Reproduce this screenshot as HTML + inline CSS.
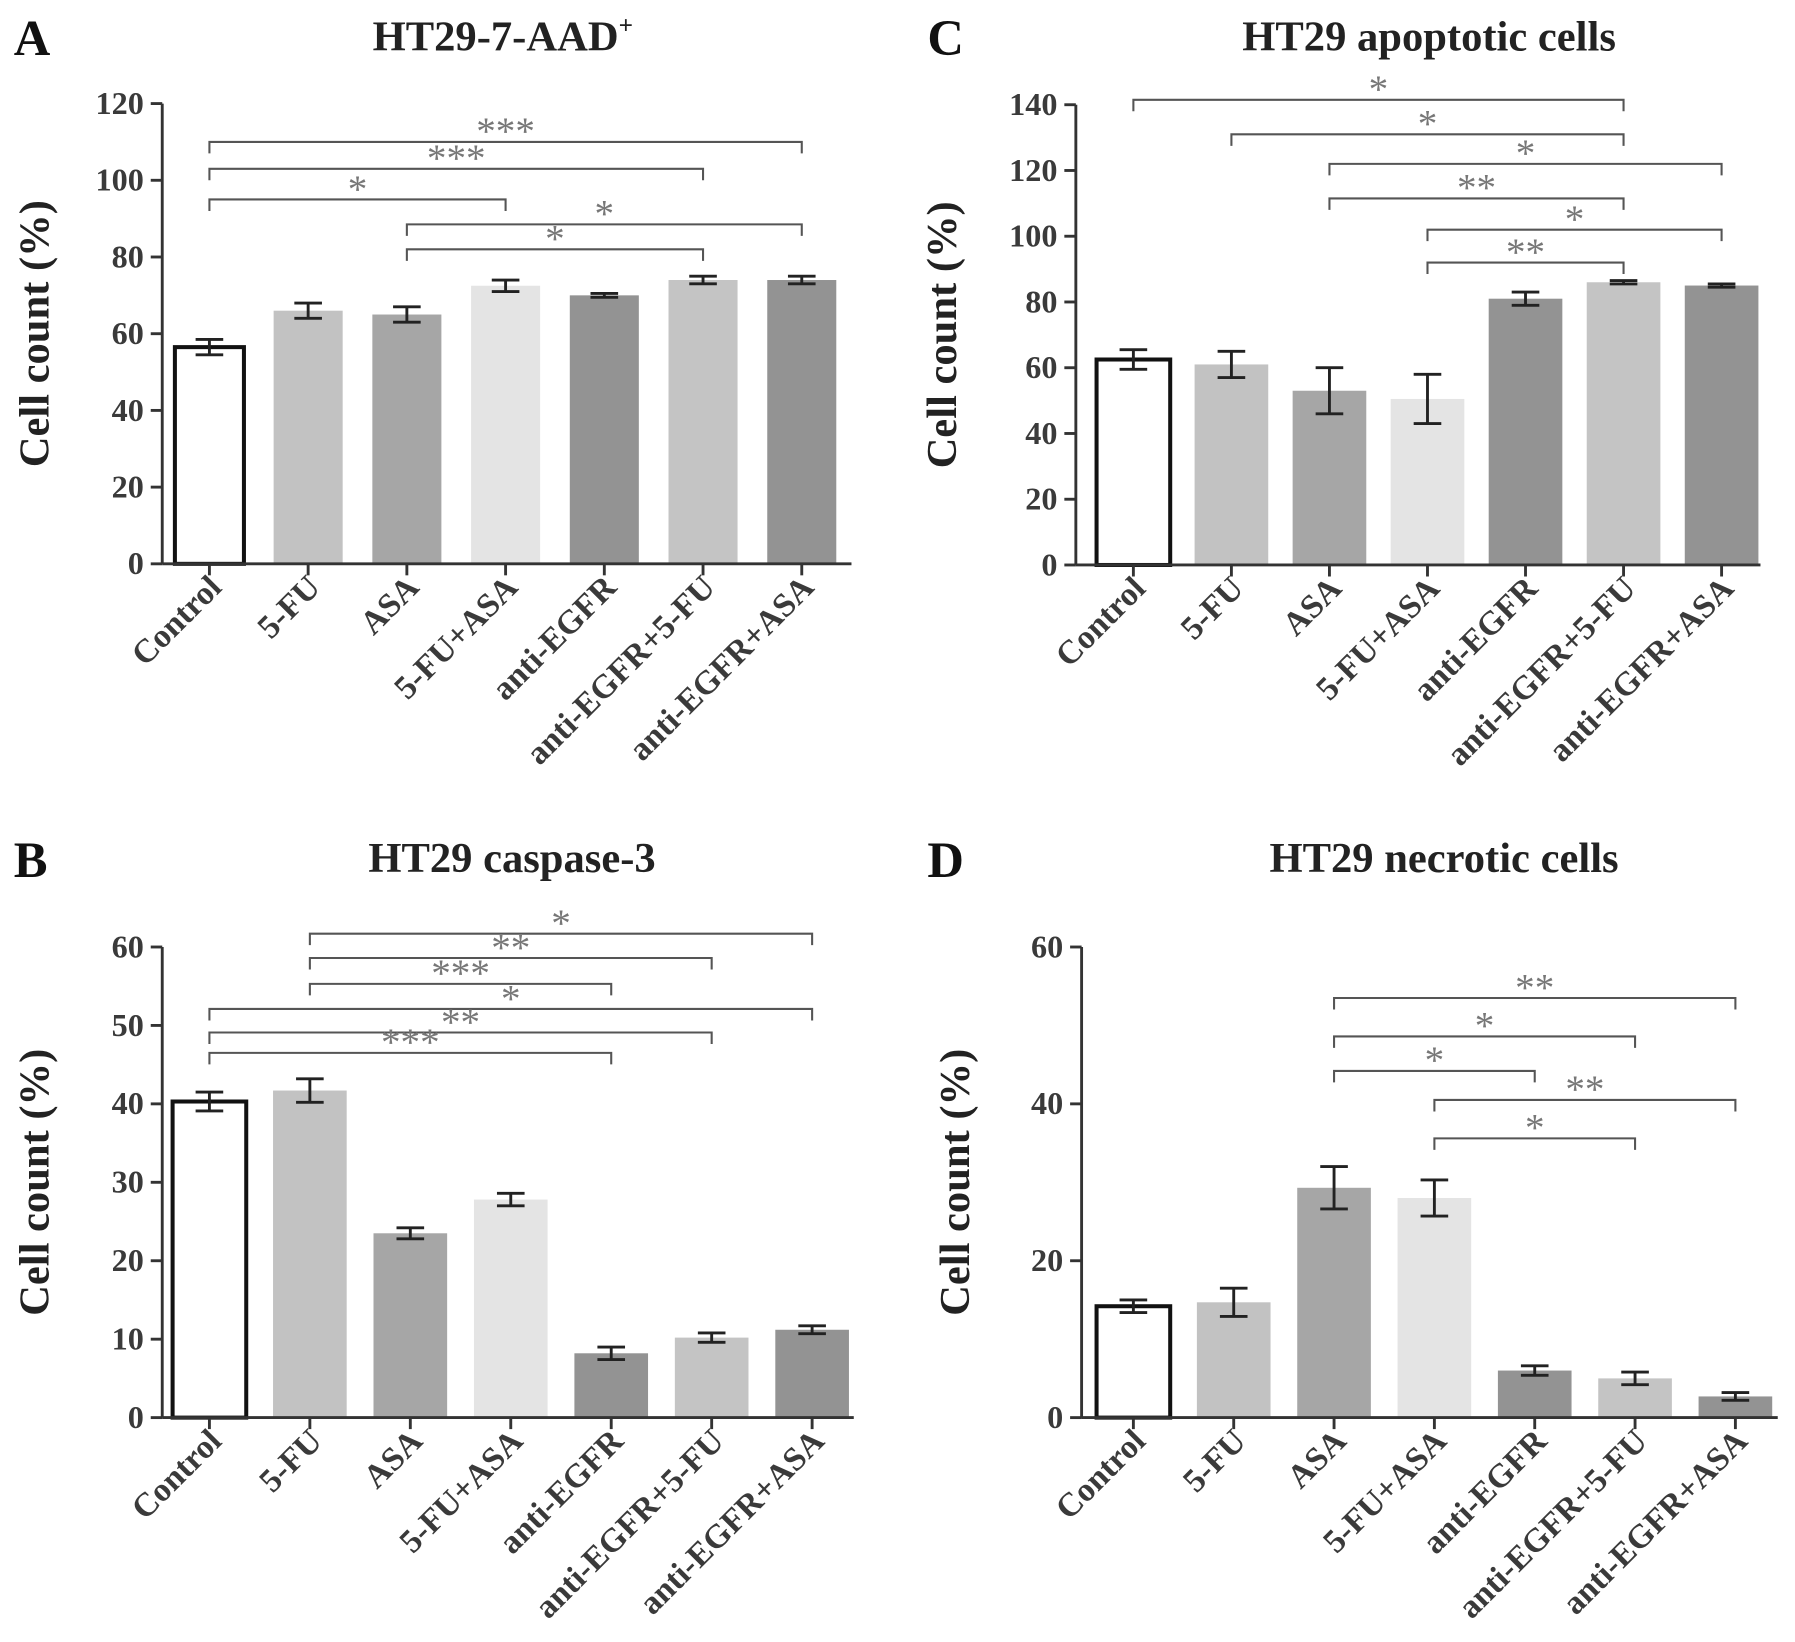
<!DOCTYPE html>
<html><head><meta charset="utf-8"><style>
html,body{margin:0;padding:0;background:#fff}
svg{display:block}
text{font-family:"Liberation Serif",serif}
</style></head><body>
<svg id="fig" xmlns="http://www.w3.org/2000/svg" width="1795" height="1642" viewBox="0 0 1560 1427"></svg>
<script>
const categories = ["Control","5-FU","ASA","5-FU+ASA","anti-EGFR","anti-EGFR+5-FU","anti-EGFR+ASA"];
const colors = ["#ffffff","#c2c2c2","#a6a6a6","#e4e4e4","#939393","#c4c4c4","#939393"];

const valuesA = [56.5,66,65,72.5,70,74,74];
const errorsA = [2,2,2,1.5,0.5,1,1];
const bracketsA = [[0,6,110,"***"],[0,5,103,"***"],[0,3,95,"*"],[2,6,88.5,"*"],[2,5,82,"*"]];
const ticksA = [0,20,40,60,80,100,120];

const valuesB = [40.3,41.7,23.5,27.8,8.2,10.2,11.2];
const errorsB = [1.2,1.5,0.7,0.8,0.8,0.6,0.5];
const bracketsB = [[1,6,61.7,"*"],[1,5,58.6,"**"],[1,4,55.3,"***"],[0,6,52.1,"*"],[0,5,49.1,"**"],[0,4,46.5,"***"]];
const ticksB = [0,10,20,30,40,50,60];

const valuesC = [62.5,61,53,50.5,81,86,85];
const errorsC = [3,4,7,7.5,2,0.5,0.5];
const bracketsC = [[0,5,141.5,"*"],[1,5,131,"*"],[2,6,122,"*"],[2,5,111.5,"**"],[3,6,102,"*"],[3,5,92,"**"]];
const ticksC = [0,20,40,60,80,100,120,140];

const valuesD = [14.2,14.7,29.3,28,6,5,2.7];
const errorsD = [0.8,1.8,2.7,2.3,0.6,0.8,0.5];
const bracketsD = [[2,6,53.5,"**"],[2,5,48.6,"*"],[2,4,44.2,"*"],[3,6,40.5,"**"],[3,5,35.6,"*"]];
const ticksD = [0,20,40,60];

const NS="http://www.w3.org/2000/svg";
const svg=document.getElementById('fig');
function mk(tag,attrs,parent){const e=document.createElementNS(NS,tag);for(const k in attrs)e.setAttribute(k,attrs[k]);(parent||svg).appendChild(e);return e;}

function panel(cfg){
  const g=mk('g',{});
  
  
  const y=v=>cfg.y0-(v/cfg.ymax)*(cfg.y0-cfg.ytop);
  const x=i=>cfg.x1+cfg.step*i;
  const L=mk('text',{x:cfg.lx,y:cfg.ly,'font-size':44,'font-weight':'bold',fill:'#111'},g);L.textContent=cfg.letter;
  
  
  const T=mk('text',{x:cfg.tx,y:cfg.ly-4,'font-size':37,'font-weight':'bold','text-anchor':'middle',fill:'#222'},g);
  T.textContent=cfg.title;
  if(cfg.sup){const s=mk('tspan',{'font-size':22,dy:-15},T);s.textContent='+';}
  
  
  const yt=mk('text',{x:0,y:0,'font-size':37,'font-weight':'bold','text-anchor':'middle',fill:'#222',transform:`translate(${cfg.ytx+13},${(cfg.y0+cfg.ytop)/2}) rotate(-90)`},g);
  yt.textContent='Cell count (%)';
  
  
  cfg.values.forEach((v,i)=>{
    const w=cfg.bw, cx=x(i);
    const r=mk('rect',{x:cx-w/2,y:y(v),width:w,height:cfg.y0-y(v),fill:colors[i],stroke:i==0?'#111':'none','stroke-width':i==0?3.5:0},g);
    
    
    const e=cfg.errors[i];
    const eb=mk('path',{d:`M${cx-12},${y(v+e)}H${cx+12}M${cx},${y(v+e)}V${y(v-e)}M${cx-12},${y(v-e)}H${cx+12}`,stroke:'#222','stroke-width':2.5,fill:'none'},g);
    
    
  });
  const ya=mk('path',{d:`M${cfg.ax},${cfg.ytop}V${cfg.y0}`,stroke:'#333','stroke-width':2.5},g);
  
  
  const xa=mk('path',{d:`M${cfg.ax},${cfg.y0}H${cfg.xend}`,stroke:'#333','stroke-width':2.5},g);
  
  
  cfg.ticks.forEach(t=>{
    mk('path',{d:`M${cfg.ax-10},${y(t)}H${cfg.ax}`,stroke:'#333','stroke-width':2.5},g);
    const tl=mk('text',{x:cfg.ax-16,y:y(t)+9,'font-size':28,'font-weight':'bold','text-anchor':'end',fill:'#3a3a3a'},g);
    tl.textContent=t;
    
    
  });
  categories.forEach((c,i)=>{
    const cx=x(i);
    mk('path',{d:`M${cx},${cfg.y0}V${cfg.y0+10}`,stroke:'#333','stroke-width':2.5},g);
    const tl=mk('text',{x:0,y:0,'font-size':29,'font-weight':'bold','text-anchor':'end',fill:'#3a3a3a',transform:`translate(${cx+12},${cfg.y0+22}) rotate(-45)`},g);
    tl.textContent=c;
    
    
  });
  cfg.brackets.forEach(b=>{
    const xa1=x(b[0]),xb=x(b[1]),yy=y(b[2]);
    const p=mk('path',{d:`M${xa1},${yy+10}V${yy}H${xb}V${yy+10}`,stroke:'#555','stroke-width':1.8,fill:'none'},g);
    
    
    const s=mk('text',{x:(xa1+xb)/2,y:yy+2,'font-size':34,'text-anchor':'middle',fill:'#777','font-family':'"DejaVu Sans",sans-serif'},g);
    s.textContent=b[3];
    
    
  });
}
panel({letter:'A',title:'HT29-7-AAD',sup:true,lx:12,ly:48,tx:437,ax:141,ytx:29,x1:182,step:85.8,bw:60,y0:490,ytop:90,ymax:120,xend:740,values:valuesA,errors:errorsA,brackets:bracketsA,ticks:ticksA});
panel({letter:'B',title:'HT29 caspase-3',lx:12,ly:762,tx:445,ax:141,ytx:29,x1:182,step:87.3,bw:64,y0:1232,ytop:823,ymax:60,xend:742,values:valuesB,errors:errorsB,brackets:bracketsB,ticks:ticksB});
panel({letter:'C',title:'HT29 apoptotic cells',lx:806,ly:48,tx:1242,ax:935,ytx:818,x1:985,step:85.2,bw:64,y0:491,ytop:91,ymax:140,xend:1530,values:valuesC,errors:errorsC,brackets:bracketsC,ticks:ticksC});
panel({letter:'D',title:'HT29 necrotic cells',lx:806,ly:762,tx:1255,ax:940,ytx:829,x1:985,step:87.2,bw:64,y0:1232,ytop:823,ymax:60,xend:1545,values:valuesD,errors:errorsD,brackets:bracketsD,ticks:ticksD});
</script>
</body></html>
